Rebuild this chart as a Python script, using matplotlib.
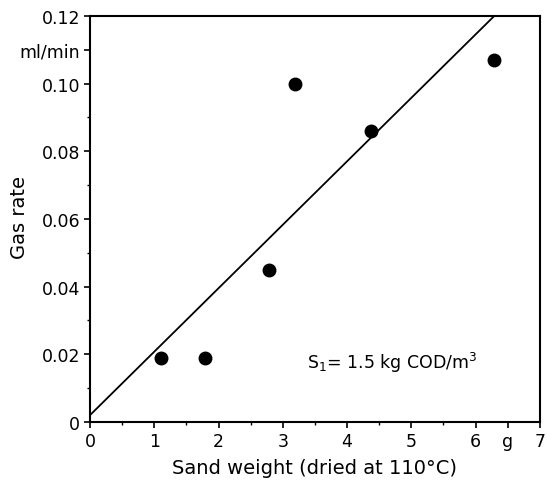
import numpy as np
import matplotlib
matplotlib.use("Agg")
import matplotlib.pyplot as plt

# measured points: sand weight (g) vs gas rate (ml/min)
sand_g = [1.10, 1.79, 2.78, 3.19, 4.38, 6.28]
gas_rate = [0.019, 0.019, 0.045, 0.100, 0.086, 0.107]
# fitted straight line, end points
fit_x = [0.0, 6.29]
fit_y = [0.002, 0.12]

x_ticks = [0, 1, 2, 3, 4, 5, 6, 6.5, 7]
x_labels = ["0", "1", "2", "3", "4", "5", "6", "g", "7"]
y_ticks = [0, 0.02, 0.04, 0.06, 0.08, 0.10, 0.11, 0.12]
y_labels = ["0", "0.02", "0.04", "0.06", "0.08", "0.10", "ml/min", "0.12"]

plt.rcParams["font.family"] = ["DejaVu Sans"]
fig = plt.figure(figsize=(5.47, 4.85), dpi=100)
ax = fig.add_axes([0.1645, 0.128, 0.8225, 0.837])

ax.plot(fit_x, fit_y, color="black", lw=1.3)
ax.plot(sand_g, gas_rate, "o", color="black", ms=9)

ax.set_xlim(0, 7); ax.set_ylim(0, 0.12)
ax.set_xticks(x_ticks); ax.set_xticklabels(x_labels)
ax.set_yticks(y_ticks); ax.set_yticklabels(y_labels)
ax.set_xticks(np.arange(0.5, 7, 1.0), minor=True)
ax.set_yticks(np.arange(0.01, 0.12, 0.02), minor=True)
ax.tick_params(which="major", direction="out", length=4, width=1.2, labelsize=12.5, pad=3)
ax.tick_params(which="minor", direction="out", length=2.5, width=1.0)
for s in ax.spines.values():
    s.set_linewidth(1.5)

ax.set_xlabel("Sand weight (dried at 110°C)", fontsize=14, labelpad=6)
ax.set_ylabel("Gas rate", fontsize=14)
ax.yaxis.set_label_coords(-0.135, 0.505)
ax.text(3.37, 0.0177, r"S$_1$= 1.5 kg COD/m$^3$", fontsize=12.5, va="center", ha="left")

fig.savefig("out.png", dpi=100)
